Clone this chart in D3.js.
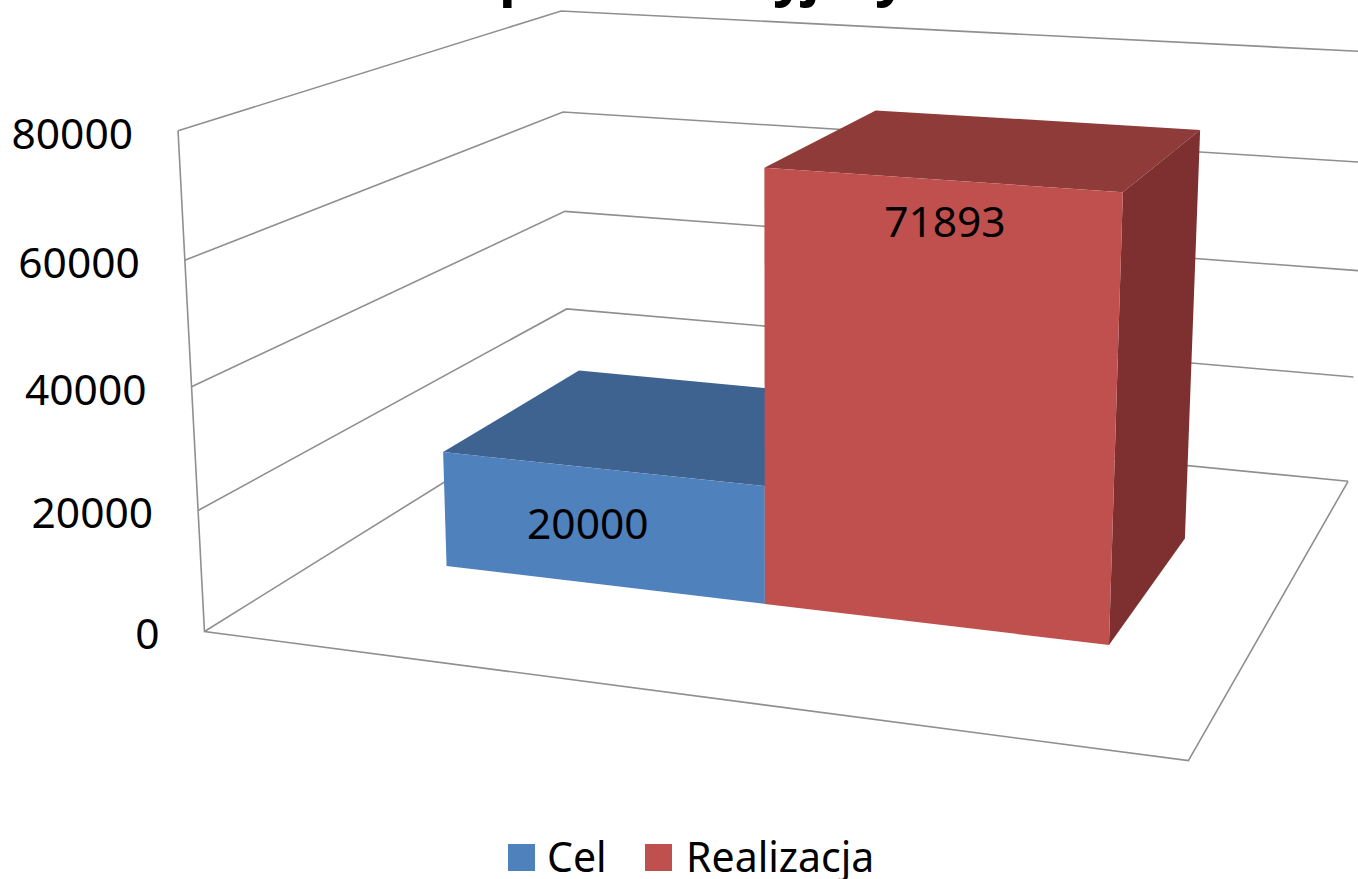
<!DOCTYPE html>
<html>
<head>
<meta charset="utf-8">
<script src="https://cdn.jsdelivr.net/npm/d3@7"></script>
<style>
html,body{margin:0;padding:0;background:#fff;overflow:hidden}
text{font-family:"Noto Sans","Open Sans",sans-serif;fill:#000}
</style>
</head>
<body>
<svg id="c" width="1358" height="879"></svg>
<script>
// ---- data
const seriesNames = ["Cel", "Realizacja"];
const seriesValues = [20000, 71893];
const tickValues = [0, 20000, 40000, 60000, 80000];
const titleFragments = ["p", "y", "j", "y"];

// ---- style
const frontColors = ["#4f81bd", "#c0504d"];
const topColors = ["#3e6391", "#8f3b3a"];
const sideColors = ["#3a5c86", "#7d302f"];
const gridColor = "#8f8f8f";

// ---- layout: chart box as seen on screen [u (width), v (height), w (depth)] -> [px, py]
const boxCorners = [
  [[0,0,0],[204,631]], [[1,0,0],[1187,760]], [[1,0,1],[1349,482]], [[0,0,1],[569,405]],
  [[0,1,0],[178,131]], [[1,1,0],[1212,202]], [[1,1,1],[1369,51]],  [[0,1,1],[561,11]]
];
const barSpan = [0.138, 0.864], barDepth = [0.295, 0.693];
const titleX = [499, 773, 803, 875];
const labelOffsets = [[-13, 70], [5, 57]];

// fit a perspective camera to the box corners (least squares)
function fitCamera(pairs){
  const rows=[], rhs=[];
  pairs.forEach(([[X,Y,Z],[x,y]])=>{
    rows.push([X,Y,Z,1,0,0,0,0,-x*X,-x*Y,-x*Z]); rhs.push(x);
    rows.push([0,0,0,0,X,Y,Z,1,-y*X,-y*Y,-y*Z]); rhs.push(y);
  });
  const n=11, M=d3.range(n).map(i=>d3.range(n+1).map(j=>
    d3.sum(rows,(r,k)=>r[i]*(j<n?r[j]:rhs[k]))));
  for(let i=0;i<n;i++){
    let p=i; for(let k=i+1;k<n;k++) if(Math.abs(M[k][i])>Math.abs(M[p][i])) p=k;
    [M[i],M[p]]=[M[p],M[i]];
    for(let k=0;k<n;k++) if(k!==i){ const f=M[k][i]/M[i][i]; for(let j=i;j<=n;j++) M[k][j]-=f*M[i][j]; }
  }
  return M.map((r,i)=>r[n]/r[i]);
}
const cam = fitCamera(boxCorners);
const project = (u,v,w)=>{
  const d = cam[8]*u+cam[9]*v+cam[10]*w+1;
  return [(cam[0]*u+cam[1]*v+cam[2]*w+cam[3])/d, (cam[4]*u+cam[5]*v+cam[6]*w+cam[7])/d];
};

// ---- scales
const vScale = d3.scaleLinear().domain([0,80000]).range([0,1]);
const uScale = d3.scaleBand().domain(seriesNames).range(barSpan).padding(0);
const line = d3.line();
const svg = d3.select("#c");

// ---- title fragments (top of the title is cut off by the picture edge)
svg.append("g").selectAll("text").data(titleFragments).join("text")
  .attr("x",(d,i)=>titleX[i]).attr("y",-5)
  .attr("font-size",56).attr("font-weight",700).text(d=>d);

// ---- walls and floor
const frame = svg.append("g").attr("fill","none").attr("stroke",gridColor).attr("stroke-width",1.6)
  .attr("stroke-linejoin","miter");
tickValues.forEach(t=>{
  const v=vScale(t);
  frame.append("path").attr("d",line([project(0,v,0),project(0,v,1),project(1,v,1)]));
});
frame.append("path").attr("d",line([project(0,1,0),project(0,0,0),project(1,0,0),project(1,0,1)]));

// ---- axis labels
svg.append("g").selectAll("text").data(tickValues).join("text")
  .attr("x",d=>project(0,vScale(d),0)[0]-45)
  .attr("y",d=>project(0,vScale(d),0)[1]+18)
  .attr("text-anchor","end").attr("font-size",42.5).text(d=>d);

// ---- bars
const bars = svg.append("g");
seriesNames.forEach((name,i)=>{
  const u0=uScale(name), u1=u0+uScale.bandwidth(), v=vScale(seriesValues[i]), [w0,w1]=barDepth;
  const face=(pts,c)=>bars.append("path").attr("d",line(pts)+"Z").attr("fill",c);
  face([project(u0,v,w0),project(u1,v,w0),project(u1,v,w1),project(u0,v,w1)],topColors[i]);
  face([project(u1,0,w0),project(u1,0,w1),project(u1,v,w1),project(u1,v,w0)],sideColors[i]);
  face([project(u0,0,w0),project(u1,0,w0),project(u1,v,w0),project(u0,v,w0)],frontColors[i]);
});

// ---- data labels
seriesNames.forEach((name,i)=>{
  const u=uScale(name)+uScale.bandwidth()/2, v=vScale(seriesValues[i]);
  const top=project(u,v,barDepth[0]);
  svg.append("text")
    .attr("x",top[0]+labelOffsets[i][0]).attr("y",top[1]+labelOffsets[i][1])
    .attr("text-anchor","middle").attr("font-size",42.5).text(seriesValues[i]);
});

// ---- legend
const legendX=[508,645], textX=[547,686];
const lg=svg.append("g");
seriesNames.forEach((name,i)=>{
  lg.append("rect").attr("x",legendX[i]).attr("y",844).attr("width",27).attr("height",27).attr("fill",frontColors[i]);
  lg.append("text").attr("x",textX[i]).attr("y",872).attr("font-size",41).text(name);
});
</script>
</body>
</html>
